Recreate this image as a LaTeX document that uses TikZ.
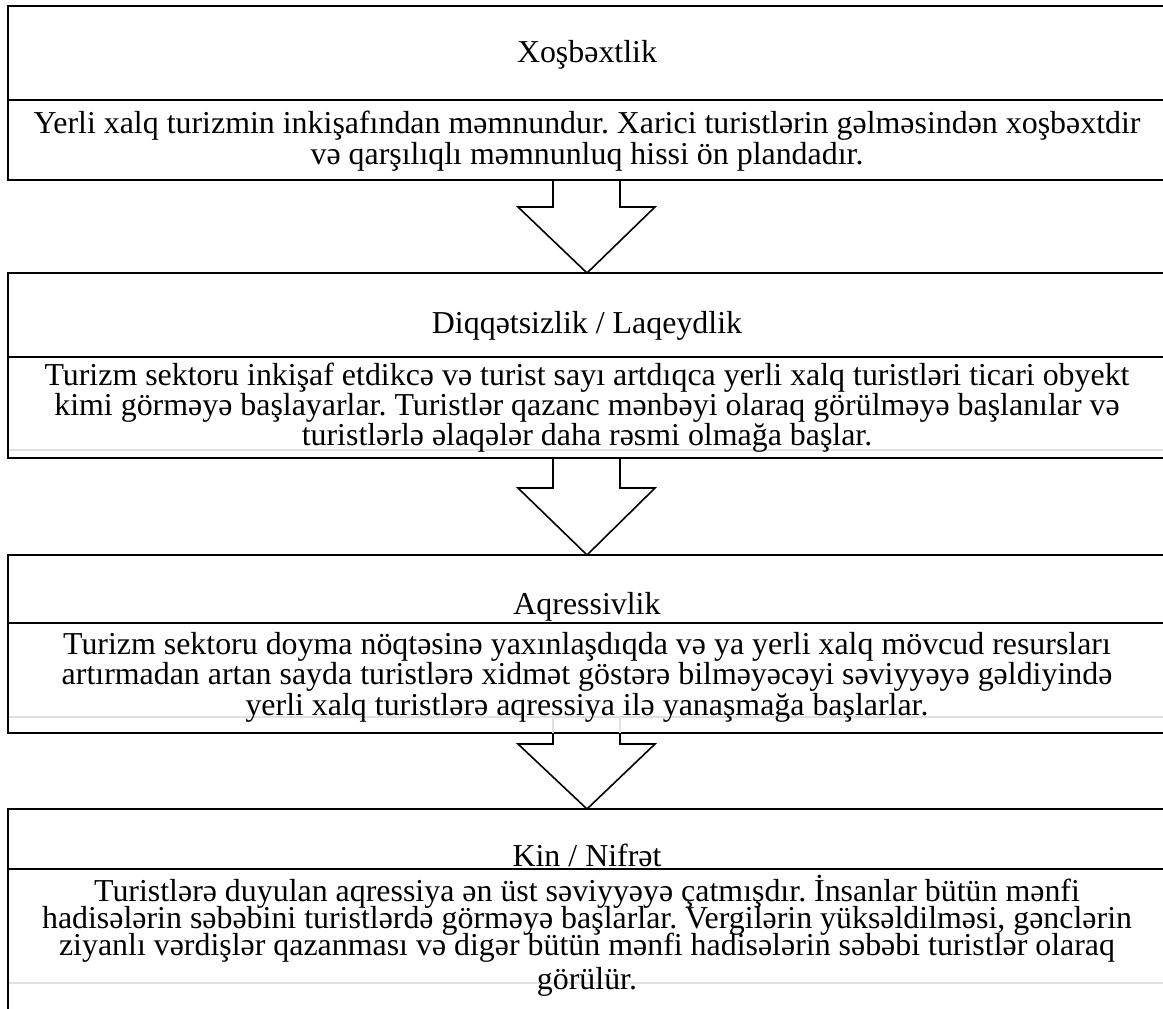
\documentclass[tikz,border=0pt]{standalone}
\usepackage{fontspec}
\setmainfont{Liberation Serif}
\usetikzlibrary{calc}
\frenchspacing
\begin{document}
\begin{tikzpicture}[x=1pt,y=-1pt,
  box/.style={draw=black,line width=2.2pt,minimum width=1158pt,inner sep=0pt,outer sep=0pt},
  divider/.style={draw=black,line width=1.6pt},
  ghost/.style={draw=black!12,line width=2pt},
  blockarrow/.style={draw=black,line width=1.6pt,line join=miter},
  ln/.style={font=\fontsize{31.9}{30}\selectfont,inner sep=0pt,anchor=base}]
\useasboundingbox (0,0) rectangle (1163,1009);
\clip (0,0) rectangle (1163,1009);
% boxes
\node[box,minimum height=174pt] (b1) at (587,93) {};
\node[box,minimum height=185pt] (b2) at (587,365.5) {};
\node[box,minimum height=178pt] (b3) at (587,644) {};
\draw[line width=2.2pt] (8,1030) -- (8,809) -- (1166,809) -- (1166,1030);
\coordinate (b4n) at (587,809);
% dividers
\draw[divider] (b1.west |- 0,100) -- (b1.east |- 0,100);
\draw[divider] (b2.west |- 0,357) -- (b2.east |- 0,357);
\draw[divider] (b3.west |- 0,623) -- (b3.east |- 0,623);
\draw[divider] (8,869) -- (1166,869);
% ghost lines
\draw[ghost] (9,450) -- (1166,450);
\draw[ghost] (9,717) -- (1166,717);
\draw[ghost] (9,983) -- (1166,983);
\draw[ghost] (553,717) -- (553,733) (620,717) -- (620,733);
% box 1
\node[ln] (t1) at (587,62) {Xoşbəxtlik};
\node[ln] (d1a) at (587,133) {Yerli xalq turizmin inkişafından məmnundur. Xarici turistlərin gəlməsindən xoşbəxtdir};
\node[ln] (d1b) at (587,164) {və qarşılıqlı məmnunluq hissi ön plandadır.};
% box 2
\node[ln] (t2) at (587,333) {Diqqətsizlik / Laqeydlik};
\node[ln] (d2a) at (587,385) {Turizm sektoru inkişaf etdikcə və turist sayı artdıqca yerli xalq turistləri ticari obyekt};
\node[ln] (d2b) at (587,415) {kimi görməyə başlayarlar. Turistlər qazanc mənbəyi olaraq görülməyə başlanılar və};
\node[ln] (d2c) at (587,445) {turistlərlə əlaqələr daha rəsmi olmağa başlar.};
% box 3
\node[ln] (t3) at (587,614) {Aqressivlik};
\node[ln] (d3a) at (587,654) {Turizm sektoru doyma nöqtəsinə yaxınlaşdıqda və ya yerli xalq mövcud resursları};
\node[ln] (d3b) at (587,684) {artırmadan artan sayda turistlərə xidmət göstərə bilməyəcəyi səviyyəyə gəldiyində};
\node[ln] (d3c) at (587,715) {yerli xalq turistlərə aqressiya ilə yanaşmağa başlarlar.};
% box 4
\node[ln] (t4) at (587,866) {Kin / Nifrət};
\node[ln] (d4a) at (587,901) {Turistlərə duyulan aqressiya ən üst səviyyəyə çatmışdır. İnsanlar bütün mənfi};
\node[ln] (d4b) at (587,928) {hadisələrin səbəbini turistlərdə görməyə başlarlar. Vergilərin yüksəldilməsi, gənclərin};
\node[ln] (d4c) at (587,955) {ziyanlı vərdişlər qazanması və digər bütün mənfi hadisələrin səbəbi turistlər olaraq};
\node[ln] (d4d) at (587,989) {görülür.};
% block arrows
\draw[blockarrow] ($(b1.south)+(-34,0)$) -- ++(0,27) -- ++(-35,0) -- (b2.north) -- ($(b1.south)+(68,27)$) -- ++(-35,0) -- ++(0,-27);
\draw[blockarrow] ($(b2.south)+(-34,0)$) -- ++(0,30) -- ++(-35,0) -- (b3.north) -- ($(b2.south)+(68,30)$) -- ++(-35,0) -- ++(0,-30);
\draw[blockarrow] ($(b3.south)+(-34,0)$) -- ++(0,11) -- ++(-35,0) -- (b4n) -- ($(b3.south)+(68,11)$) -- ++(-35,0) -- ++(0,-11);
\end{tikzpicture}
\end{document}
